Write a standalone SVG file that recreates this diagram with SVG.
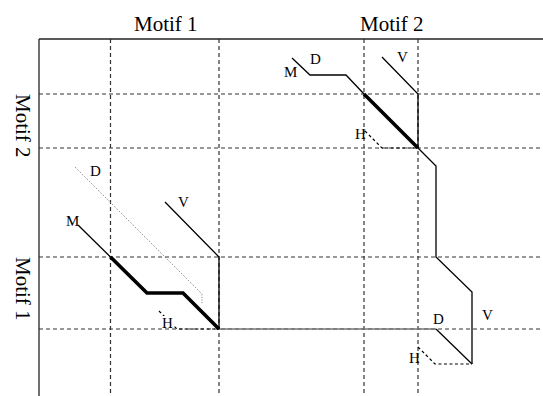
<svg xmlns="http://www.w3.org/2000/svg" width="543" height="396" viewBox="0 0 543 396">
<style>
.grid{stroke:#333;stroke-width:1.2;stroke-dasharray:4,3;fill:none}
.frame{stroke:#222;stroke-width:1.3;fill:none}
.thin{stroke:#000;stroke-width:1.3;fill:none}
.thick{stroke:#000;stroke-width:3.6;fill:none;stroke-linejoin:miter}
.hdash{stroke:#000;stroke-width:1.2;stroke-dasharray:3,2.5;fill:none}
.dot{stroke:#777;stroke-width:1;stroke-dasharray:1,1.5;fill:none}
.gray{stroke:#777;stroke-width:1.3;fill:none}
.axis{font-family:"Liberation Serif","Times New Roman",serif;font-size:21px;fill:#000}
.lbl{font-family:"Liberation Serif","Times New Roman",serif;font-size:15px;fill:#000}
</style>
<rect width="543" height="396" fill="#fff"/>
<g id="grid">
<line class="grid" x1="110.5" y1="39" x2="110.5" y2="396"/>
<line class="grid" x1="219" y1="39" x2="219" y2="396"/>
<line class="grid" x1="364" y1="39" x2="364" y2="396"/>
<line class="grid" x1="418" y1="39" x2="418" y2="396"/>
<line class="grid" x1="39" y1="94" x2="543" y2="94"/>
<line class="grid" x1="39" y1="148" x2="543" y2="148"/>
<line class="grid" x1="39" y1="257" x2="543" y2="257"/>
<line class="grid" x1="39" y1="329" x2="543" y2="329"/>
<line class="frame" x1="39" y1="39" x2="543" y2="39"/>
<line class="frame" x1="39" y1="39" x2="39" y2="396"/>
</g>
<g id="axis-labels">
<text class="axis" x="134" y="31">Motif 1</text>
<text class="axis" x="360" y="31">Motif 2</text>
<text class="axis" transform="translate(15.5,94) rotate(90)">Motif 2</text>
<text class="axis" transform="translate(15.5,257) rotate(90)">Motif 1</text>
</g>
<g id="connectors">
<polyline class="dot" points="75,167 202,294 202,303"/>
<line class="gray" x1="219" y1="329" x2="436" y2="329"/>
<polyline class="thin" points="78,225 110.5,257"/>
<polyline class="thick" points="110.5,257 147,293 183,293 219,329"/>
<polyline class="thin" points="165,202 219,257 219,329"/>
<polyline class="hdash" points="159,311 177,329 219,329"/>
<polyline class="thin" points="292,58 310,75 346,75 364,94"/>
<line class="thick" x1="364" y1="94" x2="418" y2="148"/>
<polyline class="thin" points="418,148 436,166 436,257 472,292 472,364"/>
<polyline class="thin" points="382,57 418,94 418,148"/>
<polyline class="hdash" points="365,131 382,148 418,148"/>
<line class="thin" x1="436" y1="329" x2="472" y2="364"/>
<polyline class="hdash" points="418,347 435,364 472,364"/>
</g>
<g id="path-labels">
<text class="lbl" x="90" y="176">D</text>
<text class="lbl" x="66" y="226">M</text>
<text class="lbl" x="178" y="207">V</text>
<rect x="161" y="316" width="12" height="12" fill="#fff"/>
<text class="lbl" x="162" y="328">H</text>
<text class="lbl" x="284" y="77">M</text>
<text class="lbl" x="310" y="63.5">D</text>
<text class="lbl" x="397" y="62">V</text>
<text class="lbl" x="355" y="139">H</text>
<text class="lbl" x="433" y="324">D</text>
<text class="lbl" x="482" y="320">V</text>
<text class="lbl" x="409" y="363">H</text>
</g>
</svg>
